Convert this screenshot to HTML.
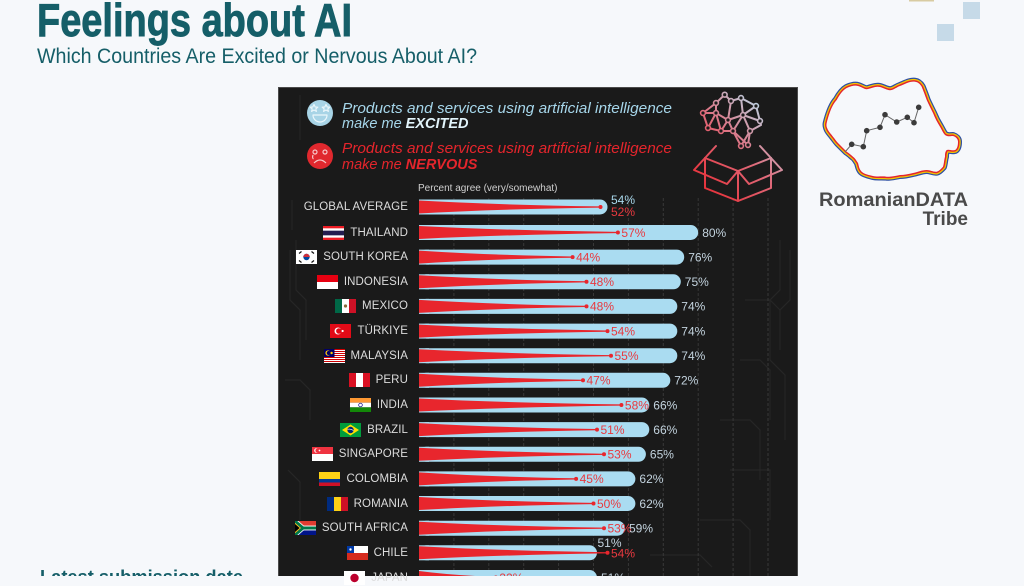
<!DOCTYPE html>
<html>
<head>
<meta charset="utf-8">
<style>
  html,body{margin:0;padding:0;}
  body{width:1024px;height:576px;overflow:hidden;background:#f6f8fb;position:relative;font-family:"Liberation Sans",sans-serif;}
  svg.main{position:absolute;left:0;top:0;}
  .r{position:absolute;right:616px;height:16px;display:flex;align-items:center;gap:6px;font-size:11.5px;color:#dcdcdc;white-space:nowrap;letter-spacing:0.1px;}
  .r svg{display:block;flex:none;}
  .e{font-size:12px;fill:#c3d3de;font-family:"Liberation Sans",sans-serif;}
  .n{font-size:12px;fill:#e8393f;font-family:"Liberation Sans",sans-serif;}
</style>
</head>
<body>
<svg class="main" width="1024" height="576" viewBox="0 0 1024 576" xmlns="http://www.w3.org/2000/svg">
  <defs>
    <linearGradient id="ig" gradientUnits="userSpaceOnUse" x1="700" y1="200" x2="782" y2="120">
      <stop offset="0" stop-color="#e8262d"/>
      <stop offset="0.55" stop-color="#e06a7a"/>
      <stop offset="1" stop-color="#b9dcec"/>
    </linearGradient>
    <path id="ro" d="M826.7,123 C830,110 833,104 836.7,100 C840,94 843,90 846.7,88 C851,86 855,85 858,86 C862,87 865,90 868,89 C872,88 876,86 880,87 C884,88 888,91 891.7,90 C895,89 897,87 900,86 C905,84 910,81 915,81.7 C918,82 920,84 921.7,86.7 C923,90 925,95 926.7,100 C929,105 931,109 933,113 C935,118 937,122 940,126.7 C942,130 943,133 945,135 C948,137 950,136 953,136 C956,137 958,139 958,141.7 C958,146 957,149 955,150 C952,151 949,149 946.7,150 C945,152 945,154 945,156.7 C944,160 944,164 943,166.7 C941,169 939,171 936.7,171.7 C933,172 930,170 926.7,170 C922,170 918,172 913,173 C909,174 904,175 900,175 C895,176 891,177 886.7,176.7 C882,176 877,177 873,176 C869,175 864,174 861.7,171.7 C859,169 859,166 858,163 C856,160 855,158 853,156.7 C851,155 849,153 846.7,151.7 C844,149 841,146 838,143 C836,141 835,139 833,136.7 C831,134 829,132 828,130 C827,128 826,126 826.7,123 Z"/>
  </defs>

  <!-- Title -->
  <text x="37" y="36" font-size="46" font-weight="bold" fill="#155e68" stroke="#155e68" stroke-width="0.9" textLength="315" lengthAdjust="spacingAndGlyphs" font-family="Liberation Sans, sans-serif">Feelings about AI</text>
  <text x="37" y="63" font-size="21.5" fill="#155e68" textLength="440" lengthAdjust="spacingAndGlyphs" font-family="Liberation Sans, sans-serif">Which Countries Are Excited or Nervous About AI?</text>
  <text x="40" y="583" font-size="18" font-weight="bold" fill="#155e68" textLength="203" lengthAdjust="spacingAndGlyphs" font-family="Liberation Sans, sans-serif">Latest submission date</text>

  <!-- top-right decorations -->
  <rect x="909" y="0" width="25" height="1.5" fill="#d8cba2"/>
  <rect x="963" y="2" width="17" height="17" fill="#c6dae8"/>
  <rect x="937" y="24" width="17" height="17" fill="#c6dae8"/>

  <!-- Logo -->
  <use href="#ro" fill="none" stroke="#2d4fa3" stroke-width="8" stroke-linejoin="round"/>
  <use href="#ro" fill="none" stroke="#f5c400" stroke-width="5.5" stroke-linejoin="round"/>
  <use href="#ro" fill="none" stroke="#e3262d" stroke-width="3" stroke-linejoin="round"/>
  <use href="#ro" fill="#f6f8fb" stroke="none"/>
  <polyline points="851.7,144.3 863.3,146.7 866.7,130.7 880,127.3 885,114.7 896.7,122 907.3,117.3 914,122.7 918.7,107.3" fill="none" stroke="#666" stroke-width="1"/>
  <line x1="851.7" y1="144.3" x2="845" y2="152" stroke="#666" stroke-width="1"/>
  <g fill="#3b3b3b">
    <circle cx="851.7" cy="144.3" r="2.8"/><circle cx="863.3" cy="146.7" r="2.8"/><circle cx="866.7" cy="130.7" r="2.8"/>
    <circle cx="880" cy="127.3" r="2.8"/><circle cx="885" cy="114.7" r="2.8"/><circle cx="896.7" cy="122" r="2.8"/>
    <circle cx="907.3" cy="117.3" r="2.8"/><circle cx="914" cy="122.7" r="2.8"/><circle cx="918.7" cy="107.3" r="2.8"/>
  </g>
  <text x="819" y="206" font-size="19" font-weight="bold" fill="#4a4a4a" textLength="149" lengthAdjust="spacingAndGlyphs" font-family="Liberation Sans, sans-serif">RomanianDATA</text>
  <text x="968" y="225" font-size="19" font-weight="bold" fill="#4a4a4a" text-anchor="end" font-family="Liberation Sans, sans-serif">Tribe</text>

  <!-- Dark panel -->
  <rect x="278.5" y="87.5" width="519" height="500" fill="#1a1a1a" stroke="#4a4a4a" stroke-width="1"/>

  <!-- circuit texture -->
  <g fill="none" stroke="#262626" stroke-width="1.2">
    <path d="M290,250 V300 L300,310 V360"/>
    <path d="M296,240 V290 L306,300 V340"/>
    <path d="M285,380 H300 L310,390 V420"/>
    <path d="M288,470 L300,482 V520"/>
    <path d="M292,200 V230"/>
    <path d="M780,240 V290 L770,300 V360 L785,375 V440"/>
    <path d="M790,250 V300 L780,310 V350"/>
    <path d="M745,300 H770 L780,310"/>
    <path d="M740,360 H760 L770,370 V420"/>
    <path d="M720,420 H750 L760,430 V480"/>
    <path d="M730,470 H770 V520"/>
    <path d="M700,520 H740 L750,530 V576"/>
    <path d="M650,555 H700 L712,567"/>
    <path d="M300,95 V140"/>
  </g>

  <!-- gridlines -->
  <g stroke="#383838" stroke-width="1" stroke-dasharray="3 2">
    <line x1="453.9" y1="198" x2="453.9" y2="576"/>
    <line x1="488.8" y1="198" x2="488.8" y2="576"/>
    <line x1="523.7" y1="198" x2="523.7" y2="576"/>
    <line x1="558.6" y1="198" x2="558.6" y2="576"/>
    <line x1="593.5" y1="198" x2="593.5" y2="576"/>
    <line x1="628.4" y1="198" x2="628.4" y2="576"/>
    <line x1="663.3" y1="198" x2="663.3" y2="576"/>
    <line x1="698.2" y1="198" x2="698.2" y2="576"/>
    <line x1="733.1" y1="198" x2="733.1" y2="576"/>
    <line x1="768" y1="198" x2="768" y2="576"/>
  </g>

  <!-- Legend icons -->
  <circle cx="320" cy="113" r="13" fill="#a8d4e6"/>
  <g stroke="#eaf6fb" stroke-width="1.2" fill="none" stroke-linejoin="round">
    <polygon points="314,104.5 315.2,107 317.8,107.2 315.8,108.9 316.4,111.4 314,110 311.6,111.4 312.2,108.9 310.2,107.2 312.8,107"/>
    <polygon points="326,104.5 327.2,107 329.8,107.2 327.8,108.9 328.4,111.4 326,110 323.6,111.4 324.2,108.9 322.2,107.2 324.8,107"/>
    <path d="M313,115 H327 A7,7 0 0 1 313,115 Z"/>
  </g>
  <circle cx="320" cy="156" r="13" fill="#e0282e"/>
  <g stroke="#f6c7c9" stroke-width="1.2" fill="none">
    <circle cx="315" cy="152" r="2"/>
    <circle cx="325" cy="152" r="2"/>
    <path d="M314,163 Q320,157 326,163"/>
    <path d="M313,155 Q312,158 313.5,159"/>
  </g>

  <!-- Legend text -->
  <g font-family="Liberation Sans, sans-serif" font-size="14.5" font-style="italic">
    <text x="342" y="113" fill="#a6d6ea" textLength="330" lengthAdjust="spacingAndGlyphs">Products and services using artificial intelligence</text>
    <text x="342" y="128" fill="#a6d6ea">make me <tspan font-weight="bold" fill="#e2f4fb">EXCITED</tspan></text>
    <text x="342" y="153" fill="#e5252c" textLength="330" lengthAdjust="spacingAndGlyphs">Products and services using artificial intelligence</text>
    <text x="342" y="169" fill="#e5252c">make me <tspan font-weight="bold">NERVOUS</tspan></text>
  </g>

  <!-- Brain in box icon -->
  <g fill="none" stroke="url(#ig)" stroke-width="2" stroke-linejoin="round" stroke-linecap="round">
    <path d="M705,158 L738,171 L771,158"/>
    <path d="M705,158 V188 L738,201 L771,188 V158"/>
    <path d="M738,171 V201"/>
    <path d="M705,158 L694,170 L727,184 L738,171"/>
    <path d="M771,158 L782,170 L749,184 L738,171"/>
    <path d="M705,158 L716,146"/>
    <path d="M771,158 L760,146"/>
    <path d="M724.7,94.7 L716,103 L703,113 L708,128 L721,131 L733,131 L741,146"/>
    <path d="M724.7,94.7 L731,101 L741,98 L756,106 L760,121 L761,125 L750,131 L748,145"/>
    <path d="M716,103 L716,113 L728,120 L743,115 L756,106"/>
    <path d="M731,101 L728,120 L721,131"/>
    <path d="M741,98 L743,115 L760,121"/>
    <path d="M703,113 L716,113 L708,128"/>
    <path d="M728,120 L733,131 L743,115 L750,131"/>
    <path d="M716,113 L721,131"/>
    <path d="M733,131 L748,145"/>
    <path d="M750,131 L741,146"/>
  </g>
  <g fill="#1a1a1a" stroke="url(#ig)" stroke-width="1.6">
    <circle cx="724.7" cy="94.7" r="2.4"/><circle cx="716" cy="103" r="2.4"/><circle cx="731" cy="101" r="2.4"/>
    <circle cx="741" cy="98" r="2.4"/><circle cx="756" cy="106" r="2.4"/><circle cx="703" cy="113" r="2.4"/>
    <circle cx="716" cy="113" r="2.4"/><circle cx="728" cy="120" r="2.4"/><circle cx="743" cy="115" r="2.4"/>
    <circle cx="760" cy="121" r="2.4"/><circle cx="708" cy="128" r="2.4"/><circle cx="721" cy="131" r="2.4"/>
    <circle cx="733" cy="131" r="2.4"/><circle cx="750" cy="131" r="2.4"/><circle cx="741" cy="146" r="2.4"/>
    <circle cx="748" cy="145" r="2.4"/>
  </g>

  <!-- Percent agree -->
  <text x="418" y="191" font-size="10" fill="#cfcfcf" font-family="Liberation Sans, sans-serif">Percent agree (very/somewhat)</text>

  <!-- Global average -->
  <g transform="translate(0,207)">
    <rect x="419" y="-7.5" width="188.5" height="15" rx="7.5" fill="#aadcf1"/>
    <rect x="419" y="-7.5" width="10" height="15" fill="#aadcf1"/>
    <path d="M419,-6.5 Q500.7,-2 600.5,-0.6 V0.6 Q500.7,2 419,6.5 Z" fill="#e8262d"/>
    <circle cx="600.5" cy="0" r="2" fill="#e8262d"/>
    <text x="611" y="-3" class="e" style="fill:#a9d8ec">54%</text>
    <text x="611" y="9" class="n">52%</text>
  </g>

  <!-- Rows -->
  <g fill="#aadcf1">
    <g transform="translate(0,232.5)">
      <rect x="419" y="-7.5" width="279.2" height="15" rx="7.5"/><rect x="419" y="-7.5" width="10" height="15"/>
      <path d="M419,-6.5 Q508.5,-2 617.9,-0.6 V0.6 Q508.5,2 419,6.5 Z" fill="#e8262d"/>
      <circle cx="617.9" cy="0" r="2" fill="#e8262d"/>
      <text x="621.4" y="4.3" class="n">57%</text><text x="702.2" y="4.3" class="e">80%</text>
    </g>
    <g transform="translate(0,257.1)">
      <rect x="419" y="-7.5" width="265.2" height="15" rx="7.5"/><rect x="419" y="-7.5" width="10" height="15"/>
      <path d="M419,-6.5 Q488.1,-2 572.6,-0.6 V0.6 Q488.1,2 419,6.5 Z" fill="#e8262d"/>
      <circle cx="572.6" cy="0" r="2" fill="#e8262d"/>
      <text x="576.1" y="4.3" class="n">44%</text><text x="688.2" y="4.3" class="e">76%</text>
    </g>
    <g transform="translate(0,281.8)">
      <rect x="419" y="-7.5" width="261.8" height="15" rx="7.5"/><rect x="419" y="-7.5" width="10" height="15"/>
      <path d="M419,-6.5 Q494.4,-2 586.5,-0.6 V0.6 Q494.4,2 419,6.5 Z" fill="#e8262d"/>
      <circle cx="586.5" cy="0" r="2" fill="#e8262d"/>
      <text x="590" y="4.3" class="n">48%</text><text x="684.8" y="4.3" class="e">75%</text>
    </g>
    <g transform="translate(0,306.4)">
      <rect x="419" y="-7.5" width="258.3" height="15" rx="7.5"/><rect x="419" y="-7.5" width="10" height="15"/>
      <path d="M419,-6.5 Q494.4,-2 586.5,-0.6 V0.6 Q494.4,2 419,6.5 Z" fill="#e8262d"/>
      <circle cx="586.5" cy="0" r="2" fill="#e8262d"/>
      <text x="590" y="4.3" class="n">48%</text><text x="681.3" y="4.3" class="e">74%</text>
    </g>
    <g transform="translate(0,331.1)">
      <rect x="419" y="-7.5" width="258.3" height="15" rx="7.5"/><rect x="419" y="-7.5" width="10" height="15"/>
      <path d="M419,-6.5 Q503.8,-2 607.5,-0.6 V0.6 Q503.8,2 419,6.5 Z" fill="#e8262d"/>
      <circle cx="607.5" cy="0" r="2" fill="#e8262d"/>
      <text x="611" y="4.3" class="n">54%</text><text x="681.3" y="4.3" class="e">74%</text>
    </g>
    <g transform="translate(0,355.7)">
      <rect x="419" y="-7.5" width="258.3" height="15" rx="7.5"/><rect x="419" y="-7.5" width="10" height="15"/>
      <path d="M419,-6.5 Q505.4,-2 611,-0.6 V0.6 Q505.4,2 419,6.5 Z" fill="#e8262d"/>
      <circle cx="611" cy="0" r="2" fill="#e8262d"/>
      <text x="614.5" y="4.3" class="n">55%</text><text x="681.3" y="4.3" class="e">74%</text>
    </g>
    <g transform="translate(0,380.3)">
      <rect x="419" y="-7.5" width="251.3" height="15" rx="7.5"/><rect x="419" y="-7.5" width="10" height="15"/>
      <path d="M419,-6.5 Q492.8,-2 583,-0.6 V0.6 Q492.8,2 419,6.5 Z" fill="#e8262d"/>
      <circle cx="583" cy="0" r="2" fill="#e8262d"/>
      <text x="586.5" y="4.3" class="n">47%</text><text x="674.3" y="4.3" class="e">72%</text>
    </g>
    <g transform="translate(0,405)">
      <rect x="419" y="-7.5" width="230.3" height="15" rx="7.5"/><rect x="419" y="-7.5" width="10" height="15"/>
      <path d="M419,-6.5 Q510.1,-2 621.4,-0.6 V0.6 Q510.1,2 419,6.5 Z" fill="#e8262d"/>
      <circle cx="621.4" cy="0" r="2" fill="#e8262d"/>
      <text x="624.9" y="4.3" class="n">58%</text><text x="653.3" y="4.3" class="e">66%</text>
    </g>
    <g transform="translate(0,429.6)">
      <rect x="419" y="-7.5" width="230.3" height="15" rx="7.5"/><rect x="419" y="-7.5" width="10" height="15"/>
      <path d="M419,-6.5 Q499.1,-2 597,-0.6 V0.6 Q499.1,2 419,6.5 Z" fill="#e8262d"/>
      <circle cx="597" cy="0" r="2" fill="#e8262d"/>
      <text x="600.5" y="4.3" class="n">51%</text><text x="653.3" y="4.3" class="e">66%</text>
    </g>
    <g transform="translate(0,454.3)">
      <rect x="419" y="-7.5" width="226.9" height="15" rx="7.5"/><rect x="419" y="-7.5" width="10" height="15"/>
      <path d="M419,-6.5 Q502.3,-2 604,-0.6 V0.6 Q502.3,2 419,6.5 Z" fill="#e8262d"/>
      <circle cx="604" cy="0" r="2" fill="#e8262d"/>
      <text x="607.5" y="4.3" class="n">53%</text><text x="649.9" y="4.3" class="e">65%</text>
    </g>
    <g transform="translate(0,478.9)">
      <rect x="419" y="-7.5" width="216.4" height="15" rx="7.5"/><rect x="419" y="-7.5" width="10" height="15"/>
      <path d="M419,-6.5 Q489.7,-2 576.1,-0.6 V0.6 Q489.7,2 419,6.5 Z" fill="#e8262d"/>
      <circle cx="576.1" cy="0" r="2" fill="#e8262d"/>
      <text x="579.6" y="4.3" class="n">45%</text><text x="639.4" y="4.3" class="e">62%</text>
    </g>
    <g transform="translate(0,503.5)">
      <rect x="419" y="-7.5" width="216.4" height="15" rx="7.5"/><rect x="419" y="-7.5" width="10" height="15"/>
      <path d="M419,-6.5 Q497.5,-2 593.5,-0.6 V0.6 Q497.5,2 419,6.5 Z" fill="#e8262d"/>
      <circle cx="593.5" cy="0" r="2" fill="#e8262d"/>
      <text x="597" y="4.3" class="n">50%</text><text x="639.4" y="4.3" class="e">62%</text>
    </g>
    <g transform="translate(0,528.2)">
      <rect x="419" y="-7.5" width="205.9" height="15" rx="7.5"/><rect x="419" y="-7.5" width="10" height="15"/>
      <path d="M419,-6.5 Q502.3,-2 604,-0.6 V0.6 Q502.3,2 419,6.5 Z" fill="#e8262d"/>
      <circle cx="604" cy="0" r="2" fill="#e8262d"/>
      <text x="607.5" y="4.3" class="n">53%</text><text x="629" y="4.3" class="e">59%</text>
    </g>
    <g transform="translate(0,552.8)">
      <rect x="419" y="-7.5" width="178" height="15" rx="7.5"/><rect x="419" y="-7.5" width="10" height="15"/>
      <path d="M419,-6.5 Q503.8,-2 607.5,-0.6 V0.6 Q503.8,2 419,6.5 Z" fill="#e8262d"/>
      <circle cx="607.5" cy="0" r="2" fill="#e8262d"/>
      <text x="611" y="4.5" class="n">54%</text><text x="597.5" y="-6" class="e">51%</text>
    </g>
    <g transform="translate(0,577.5)">
      <rect x="419" y="-7.5" width="178" height="15" rx="7.5"/><rect x="419" y="-7.5" width="10" height="15"/>
      <path d="M419,-6.5 Q453.6,-2 495.8,-0.6 V0.6 Q453.6,2 419,6.5 Z" fill="#e8262d"/>
      <circle cx="495.8" cy="0" r="2" fill="#e8262d"/>
      <text x="499.3" y="4.3" class="n">22%</text><text x="601" y="4.3" class="e">51%</text>
    </g>
  </g>
</svg>

<div class="r" style="top:199px;">GLOBAL AVERAGE</div>

<div class="r" style="top:224.5px;">
  <svg width="21" height="14" viewBox="0 0 21 14"><rect width="21" height="14" fill="#ed1c24"/><rect y="2.33" width="21" height="9.33" fill="#fff"/><rect y="4.67" width="21" height="4.67" fill="#241d4f"/></svg>THAILAND</div>

<div class="r" style="top:249.1px;">
  <svg width="21" height="14" viewBox="0 0 21 14"><rect width="21" height="14" fill="#fff"/><circle cx="10.5" cy="7" r="3.2" fill="#0047a0"/><path d="M7.3,7 A3.2,3.2 0 0 1 13.7,7 Z" fill="#cd2e3a"/><g stroke="#111" stroke-width="1.2"><line x1="3" y1="3.5" x2="5.5" y2="1.5"/><line x1="15.5" y1="1.5" x2="18" y2="3.5"/><line x1="3" y1="10.5" x2="5.5" y2="12.5"/><line x1="15.5" y1="12.5" x2="18" y2="10.5"/></g></svg>SOUTH KOREA</div>

<div class="r" style="top:273.8px;">
  <svg width="21" height="14" viewBox="0 0 21 14"><rect width="21" height="7" fill="#e70011"/><rect y="7" width="21" height="7" fill="#fff"/></svg>INDONESIA</div>

<div class="r" style="top:298.4px;">
  <svg width="21" height="14" viewBox="0 0 21 14"><rect width="7" height="14" fill="#006847"/><rect x="7" width="7" height="14" fill="#fff"/><rect x="14" width="7" height="14" fill="#ce1126"/><circle cx="10.5" cy="7" r="1.6" fill="#8a6b3a"/></svg>MEXICO</div>

<div class="r" style="top:323.1px;">
  <svg width="21" height="14" viewBox="0 0 21 14"><rect width="21" height="14" fill="#e30a17"/><circle cx="8" cy="7" r="3.5" fill="#fff"/><circle cx="8.9" cy="7" r="2.8" fill="#e30a17"/><circle cx="12.6" cy="7" r="1.1" fill="#fff"/></svg>TÜRKIYE</div>

<div class="r" style="top:347.7px;">
  <svg width="21" height="14" viewBox="0 0 21 14"><rect width="21" height="14" fill="#cc0001"/><g fill="#fff"><rect y="1" width="21" height="1"/><rect y="3" width="21" height="1"/><rect y="5" width="21" height="1"/><rect y="7" width="21" height="1"/><rect y="9" width="21" height="1"/><rect y="11" width="21" height="1"/><rect y="13" width="21" height="1"/></g><rect width="10.5" height="8" fill="#010066"/><circle cx="4" cy="4" r="2.6" fill="#fc0"/><circle cx="4.8" cy="4" r="2.1" fill="#010066"/><circle cx="7.6" cy="4" r="1.2" fill="#fc0"/></svg>MALAYSIA</div>

<div class="r" style="top:372.3px;">
  <svg width="21" height="14" viewBox="0 0 21 14"><rect width="7" height="14" fill="#d91023"/><rect x="7" width="7" height="14" fill="#fff"/><rect x="14" width="7" height="14" fill="#d91023"/></svg>PERU</div>

<div class="r" style="top:397px;">
  <svg width="21" height="14" viewBox="0 0 21 14"><rect width="21" height="4.67" fill="#ff9933"/><rect y="4.67" width="21" height="4.67" fill="#fff"/><rect y="9.33" width="21" height="4.67" fill="#138808"/><circle cx="10.5" cy="7" r="1.8" fill="none" stroke="#000080" stroke-width="0.7"/></svg>INDIA</div>

<div class="r" style="top:421.6px;">
  <svg width="21" height="14" viewBox="0 0 21 14"><rect width="21" height="14" fill="#009c3b"/><polygon points="2,7 10.5,1.5 19,7 10.5,12.5" fill="#ffdf00"/><circle cx="10.5" cy="7" r="3.2" fill="#002776"/><path d="M7.5,6.3 Q10.5,5.5 13.5,7.5" stroke="#fff" stroke-width="0.6" fill="none"/></svg>BRAZIL</div>

<div class="r" style="top:446.3px;">
  <svg width="21" height="14" viewBox="0 0 21 14"><rect width="21" height="7" fill="#ef3340"/><rect y="7" width="21" height="7" fill="#fff"/><circle cx="4.5" cy="3.5" r="2.3" fill="#fff"/><circle cx="5.4" cy="3.5" r="2" fill="#ef3340"/><circle cx="7.5" cy="3.5" r="0.9" fill="#fff"/></svg>SINGAPORE</div>

<div class="r" style="top:470.9px;">
  <svg width="21" height="14" viewBox="0 0 21 14"><rect width="21" height="7" fill="#fcd116"/><rect y="7" width="21" height="3.5" fill="#003893"/><rect y="10.5" width="21" height="3.5" fill="#ce1126"/></svg>COLOMBIA</div>

<div class="r" style="top:495.5px;">
  <svg width="21" height="14" viewBox="0 0 21 14"><rect width="7" height="14" fill="#002b7f"/><rect x="7" width="7" height="14" fill="#fcd116"/><rect x="14" width="7" height="14" fill="#ce1126"/></svg>ROMANIA</div>

<div class="r" style="top:520.2px;">
  <svg width="21" height="14" viewBox="0 0 21 14"><rect width="21" height="14" fill="#fff"/><rect width="21" height="4.67" fill="#e03c31"/><rect y="9.33" width="21" height="4.67" fill="#001489"/><path d="M0,0 L8,7 L0,14 M8,7 H21" stroke="#fff" stroke-width="4.6" fill="none"/><path d="M0,0 L8,7 L0,14 M8,7 H21" stroke="#007749" stroke-width="3" fill="none"/><polygon points="0,1.8 6,7 0,12.2" fill="#ffb81c"/><polygon points="0,3 4.6,7 0,11" fill="#000"/></svg>SOUTH AFRICA</div>

<div class="r" style="top:544.8px;">
  <svg width="21" height="14" viewBox="0 0 21 14"><rect width="21" height="7" fill="#fff"/><rect y="7" width="21" height="7" fill="#d52b1e"/><rect width="7" height="7" fill="#0039a6"/><circle cx="3.5" cy="3.5" r="1.2" fill="#fff"/></svg>CHILE</div>

<div class="r" style="top:569.5px;">
  <svg width="21" height="14" viewBox="0 0 21 14"><rect width="21" height="14" fill="#fff"/><circle cx="10.5" cy="7" r="4.2" fill="#bc002d"/></svg>JAPAN</div>

</body>
</html>
